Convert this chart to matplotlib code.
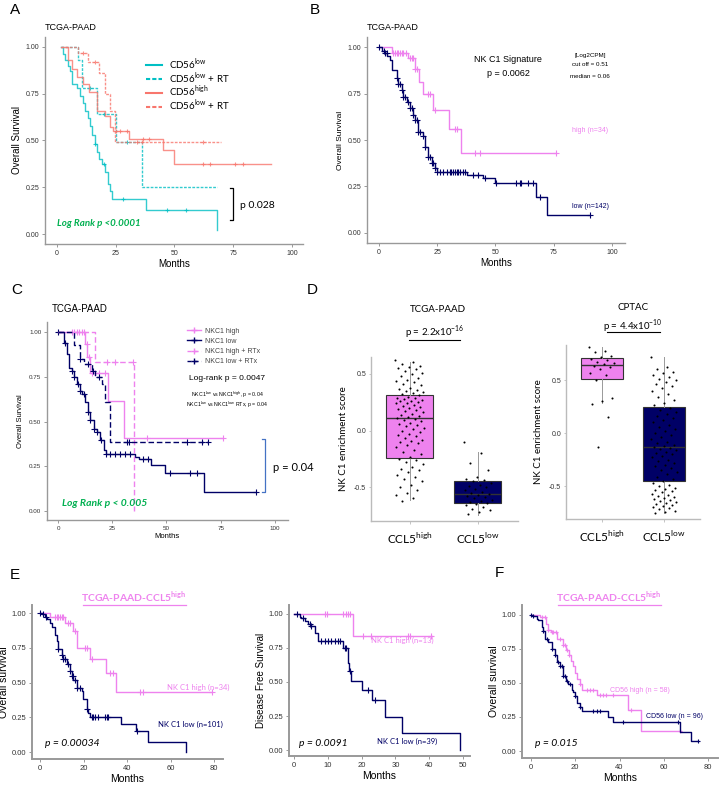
import numpy as np
import matplotlib
matplotlib.use("Agg")
import matplotlib.pyplot as plt
from matplotlib.lines import Line2D

plt.rcParams['font.family'] = ['Liberation Sans', 'DejaVu Sans']

# ---------------- data ----------------
# A: CD56 groups (months, survival)
a_low_t = [1.5, 2.5, 3.5, 4.5, 5.5, 6.5, 8.5, 10, 11, 12, 13, 14, 15, 16, 17, 18, 19, 20.5, 21.5, 22.5, 23.5, 38, 68]
a_low_s = [1.0, 0.96, 0.93, 0.90, 0.87, 0.80, 0.78, 0.74, 0.70, 0.66, 0.62, 0.58, 0.53, 0.48, 0.44, 0.40, 0.375, 0.33, 0.27, 0.23, 0.19, 0.13, 0.02]
a_low_c = [16, 20, 28, 47, 55]
a_lowrt_t = [1.5, 9, 10.5, 17, 25, 36, 68]
a_lowrt_s = [1.0, 0.93, 0.78, 0.64, 0.49, 0.25, 0.25]
a_lowrt_c = [14, 20, 30]
a_high_t = [1.5, 4.5, 6.5, 8.5, 11, 13.5, 17, 20.5, 22.5, 24, 30.5, 45, 50, 91]
a_high_s = [1.0, 0.93, 0.88, 0.84, 0.80, 0.76, 0.66, 0.63, 0.57, 0.55, 0.51, 0.45, 0.375, 0.375]
a_high_c = [25, 27, 29.7, 36.8, 39, 62, 65, 75.7, 79]
a_highrt_t = [1.5, 9, 13, 18, 20.5, 22.5, 24.5, 70]
a_highrt_s = [1.0, 0.97, 0.92, 0.86, 0.75, 0.66, 0.49, 0.49]
a_highrt_c = [11, 16, 34, 36, 62]

# B: NK C1 signature
b_high_t = [0, 5.7, 12.6, 15.4, 17.3, 18.7, 23, 30.1, 35, 76]
b_high_s = [1.0, 0.97, 0.94, 0.88, 0.81, 0.75, 0.66, 0.56, 0.43, 0.43]
b_high_c = [6.1, 6.9, 7.6, 8.3, 9, 9.7, 10.4, 11.4, 13.3, 14, 14.7, 15.6, 16.1, 21.1, 21.9, 24, 32.6, 33.3, 41.1, 43.3, 76]
b_low_t = [0, 1.1, 2.6, 3.4, 4.7, 5.4, 7.6, 8.3, 9.7, 10.4, 11.9, 13.3, 14.7, 15.4, 16.9, 19, 19.7, 21, 22.6, 24, 24.7, 37.6, 44.7, 49.7, 67.3, 72.3, 90.4]
b_low_s = [1.0, 0.98, 0.97, 0.95, 0.93, 0.875, 0.836, 0.80, 0.77, 0.73, 0.705, 0.67, 0.634, 0.607, 0.545, 0.52, 0.464, 0.41, 0.375, 0.35, 0.33, 0.31, 0.295, 0.27, 0.195, 0.095, 0.095]
b_low_c = [0.1, 2.1, 2.6, 3.3, 7.6, 8.3, 9, 9.7, 10.4, 11.1, 12.6, 13.3, 14, 14.7, 15.4, 16.1, 16.9, 17.6, 19,
           19.7, 21.1, 21.9, 22.6, 23.3, 24, 24.7, 26.1, 27.6, 29, 30.4, 31.1, 31.9, 32.6, 33.3, 34, 34.7, 36.1,
           36.9, 40.4, 42.6, 45.4, 50.4, 59, 60.4, 61.1, 64, 66.1, 68.9, 90.4]

# C: NKC1 +/- RTx
c_high_t = [0, 12.5, 13.5, 14.8, 23, 30.5, 75.9]
c_high_s = [1.0, 0.935, 0.86, 0.77, 0.615, 0.41, 0.41]
c_high_c = [6.4, 7.5, 8.7, 9.9, 11, 12, 13.3, 14.1, 15.6, 17.2, 18.7, 21.8, 41, 75.9]
c_low_t = [0, 2.6, 4.1, 4.9, 6.4, 7.2, 8.7, 10.3, 11.1, 12.6, 13.7, 14.9, 16.4, 17.9, 19.5, 21, 22.2, 35.6, 37.5, 43, 49.4, 67.3, 91.3]
c_low_s = [1.0, 0.94, 0.875, 0.80, 0.78, 0.75, 0.71, 0.67, 0.655, 0.61, 0.553, 0.507, 0.46, 0.44, 0.395, 0.34, 0.32, 0.30, 0.29, 0.255, 0.21, 0.105, 0.105]
c_low_c = [0, 3.3, 6.4, 7.5, 9, 10.3, 12.1, 13.7, 14.9, 16.4, 17.9, 19.8, 22.2, 24.1, 26.4, 28.7, 31, 33.3, 39.4, 41.7, 51.7, 60.9, 64, 91.3]
c_highrt_t = [0, 17.2, 34.8]
c_highrt_s = [1.0, 0.83, 0.0]
c_highrt_c = [22.5, 26.4, 34.5]
c_lowrt_t = [0, 7.5, 10.3, 11.8, 15.6, 17.2, 20.2, 21.8, 24, 69.3]
c_lowrt_s = [1.0, 0.93, 0.85, 0.82, 0.78, 0.75, 0.71, 0.61, 0.385, 0.385]
c_lowrt_c = [10.3, 13.8, 16.1, 18.7, 31.7, 32.5, 59.4, 66.3, 69.3]

# D: NK C1 enrichment score by CCL5 group
d_groups = ['CCL5$^{\\mathregular{high}}$', 'CCL5$^{\\mathregular{low}}$']
d1_box = [dict(q1=-0.24, med=0.11, q3=0.31, whislo=-0.61, whishi=0.61),
          dict(q1=-0.64, med=-0.56, q3=-0.45, whislo=-0.75, whishi=-0.19)]
d2_box = [dict(q1=0.51, med=0.64, q3=0.71, whislo=0.28, whishi=0.81),
          dict(q1=-0.45, med=-0.13, q3=0.25, whislo=-0.75, whishi=0.72)]
d1_high_pts = [0.62, 0.61, 0.59, 0.57, 0.56, 0.55, 0.54, 0.53, 0.51, 0.5, 0.48, 0.46, 0.45, 0.44, 0.43, 0.41, 0.4,
               0.38, 0.37, 0.36, 0.35, 0.34, 0.33, 0.32, 0.31, 0.3, 0.29, 0.29, 0.28, 0.27, 0.26, 0.26, 0.25, 0.24,
               0.24, 0.23, 0.22, 0.21, 0.2, 0.19, 0.18, 0.17, 0.16, 0.15, 0.14, 0.13, 0.12, 0.11, 0.1, 0.09, 0.08,
               0.07, 0.06, 0.05, 0.04, 0.02, 0.01, 0.0, -0.01, -0.03, -0.04, -0.05, -0.07, -0.08, -0.09, -0.1, -0.11,
               -0.13, -0.15, -0.17, -0.19, -0.21, -0.23, -0.25, -0.26, -0.28, -0.3, -0.32, -0.34, -0.35, -0.37,
               -0.39, -0.41, -0.43, -0.45, -0.48, -0.5, -0.53, -0.55, -0.57, -0.6, -0.62]
d1_low_pts = [-0.1, -0.2, -0.29, -0.35, -0.41, -0.43, -0.44, -0.45, -0.46, -0.48, -0.49, -0.5, -0.52, -0.53, -0.54,
              -0.55, -0.56, -0.57, -0.58, -0.59, -0.6, -0.61, -0.62, -0.63, -0.64, -0.65, -0.66, -0.68, -0.69, -0.7,
              -0.72, -0.74]
d2_high_pts = [0.81, 0.77, 0.76, 0.73, 0.72, 0.7, 0.69, 0.67, 0.66, 0.65, 0.63, 0.62, 0.6, 0.57, 0.55, 0.5, 0.33,
               0.3, 0.27, 0.15, -0.13]
d2_low_pts = [0.72, 0.62, 0.6, 0.58, 0.57, 0.55, 0.53, 0.51, 0.5, 0.48, 0.46, 0.44, 0.42, 0.4, 0.37, 0.34, 0.31,
              0.28, 0.26, 0.24, 0.22, 0.2, 0.18, 0.16, 0.14, 0.12, 0.1, 0.08, 0.06, 0.04, 0.02, 0.0, -0.02, -0.04,
              -0.06, -0.08, -0.09, -0.11, -0.12, -0.13, -0.14, -0.15, -0.16, -0.18, -0.19, -0.2, -0.22, -0.23,
              -0.25, -0.26, -0.28, -0.3, -0.31, -0.33, -0.35, -0.37, -0.39, -0.41, -0.43, -0.45, -0.47, -0.49,
              -0.5, -0.52, -0.53, -0.54, -0.55, -0.56, -0.57, -0.58, -0.59, -0.6, -0.61, -0.62, -0.63, -0.64,
              -0.65, -0.66, -0.67, -0.68, -0.69, -0.7, -0.71, -0.72, -0.73, -0.74, -0.75]

# E left: OS in CCL5 high
e_high_t = [0, 4.6, 11.5, 15, 17.1, 22.9, 30.3, 34.9, 79]
e_high_s = [1.0, 0.97, 0.93, 0.87, 0.75, 0.67, 0.57, 0.435, 0.435]
e_high_c = [6.9, 7.6, 8.4, 9.2, 9.9, 10.7, 13, 13.8, 16, 20.6, 21.4, 23.7, 32.1, 33.6, 45.9, 47.4, 79]
e_low_t = [0, 0.8, 2.3, 3.1, 4.6, 5.4, 6.9, 7.6, 8.4, 9.9, 10.7, 12.2, 13.8, 14.5, 15.3, 16.8, 19.1, 19.9, 21.4, 22.2, 22.9, 37, 44, 49.7, 67]
e_low_s = [1.0, 0.99, 0.97, 0.96, 0.93, 0.9, 0.84, 0.80, 0.74, 0.70, 0.67, 0.63, 0.58, 0.55, 0.52, 0.46, 0.44, 0.38, 0.31, 0.28, 0.25, 0.20, 0.15, 0.075, 0.0]
e_low_c = [0, 1.2, 2.8, 8.4, 9.9, 10.7, 11.5, 13, 13.8, 14.5, 15, 16.1, 17.1, 18.3, 21.7, 23.7, 24.5, 25.2, 26.8, 29.8, 30.6, 31.4, 44.6]

# E right: DFS
g_high_t = [0, 17.6, 40.9]
g_high_s = [1.0, 0.835, 0.835]
g_high_c = [9.1, 9.8, 14.5, 15.5, 16.1, 16.5, 20.4, 22.9, 33.7, 34.2, 40.6]
g_low_t = [0, 1.7, 2.2, 3.2, 4.1, 5.1, 6.1, 7.1, 14.5, 16, 16.3, 17, 20.2, 23.2, 26.8, 32, 49.2]
g_low_s = [1.0, 0.98, 0.97, 0.95, 0.93, 0.91, 0.86, 0.80, 0.75, 0.64, 0.58, 0.51, 0.44, 0.365, 0.245, 0.125, 0.0]
g_low_c = [1, 2.7, 4.6, 5.1, 8.1, 9.1, 10.1, 11, 12, 13, 13.5, 15, 15.5, 16.7, 21.9, 23.9]

# F: CD56 in CCL5 high
f_high_t = [0, 4, 7, 7.8, 9.2, 11.6, 14.3, 15.9, 17, 18, 19.1, 19.8, 20.6, 22.1, 22.9, 29.6, 43.9, 49.6, 68]
f_high_s = [1.0, 0.98, 0.93, 0.89, 0.87, 0.82, 0.78, 0.74, 0.70, 0.66, 0.62, 0.57, 0.53, 0.49, 0.45, 0.41, 0.30, 0.15, 0.15]
f_high_c = [4.8, 6.3, 7.8, 9.3, 10.1, 11.3, 13.1, 14.6, 15.3, 16.4, 17.3, 22.1, 25.1, 26.6, 28.1, 31.1, 32.6, 34.1, 37.1, 45.4, 67.2]
f_low_t = [0, 1, 2.5, 3.3, 4.8, 5.6, 6.3, 7.8, 9.3, 10.8, 11.9, 13.1, 14.6, 15.8, 16.8, 18.3, 19.1, 19.8, 20.9, 22.1, 22.9, 34.6, 37.1, 67.2, 72.5, 75.5]
f_low_s = [1.0, 0.99, 0.97, 0.96, 0.91, 0.88, 0.82, 0.80, 0.75, 0.70, 0.65, 0.62, 0.55, 0.51, 0.49, 0.45, 0.43, 0.40, 0.35, 0.32, 0.29, 0.25, 0.21, 0.14, 0.07, 0.07]
f_low_c = [0, 1.1, 5.6, 7.1, 9.3, 10.8, 12.3, 13.1, 13.8, 14.6, 15.3, 16.1, 17.6, 19.8, 22.1, 28.1, 29.6, 31.1, 41.7, 66.5, 75.5]

VIOLET = '#EE82EE'
NAVY = '#000066'
CYAN = '#00BFC4'
SALMON = '#F8766D'
GREEN = '#00B050'
CAL = 'Lato'

W, H = 719, 789
fig = plt.figure(figsize=(W / 100, H / 100), dpi=100)


def px_axes(l, t, r, b):
    return fig.add_axes([l / W, 1 - b / H, (r - l) / W, (b - t) / H])


def ftext(x, y, s, **kw):
    kw.setdefault('va', 'center')
    kw.setdefault('ha', 'center')
    fig.text(x / W, 1 - y / H, s, **kw)


def fline(x0, x1, y0, y1, **kw):
    fig.add_artist(Line2D([x0 / W, x1 / W], [1 - y0 / H, 1 - y1 / H], transform=fig.transFigure, **kw))


def km(ax, t, s, cens, color, ls='-', lw=1.0, alpha=1.0, ms=4):
    ax.step(t, s, where='post', color=color, ls=ls, lw=lw, alpha=alpha)
    idx = np.searchsorted(t, cens, side='right') - 1
    ax.plot(cens, np.array(s)[idx], ls='none', marker='+', color=color, ms=ms, mew=0.8, alpha=alpha)


def km_style(ax, xlim, ylim, xticks, lsize=5, spw=1.0):
    ax.set_xlim(xlim)
    ax.set_ylim(ylim)
    ax.set_xticks(xticks)
    ax.set_yticks([0, 0.25, 0.5, 0.75, 1.0])
    ax.set_yticklabels(['0.00', '0.25', '0.50', '0.75', '1.00'])
    for sp in ['top', 'right']:
        ax.spines[sp].set_visible(False)
    for sp in ['left', 'bottom']:
        ax.spines[sp].set_color('#999999')
        ax.spines[sp].set_linewidth(spw)
    ax.tick_params(length=2, width=0.7, color='#999999', labelsize=lsize, labelcolor='#333333', pad=2)
    ax.patch.set_alpha(0)


# ---------------- A ----------------
ax = px_axes(45, 37, 303, 244)
km(ax, a_low_t, a_low_s, a_low_c, CYAN, lw=1.0, alpha=0.8, ms=3)
km(ax, a_lowrt_t, a_lowrt_s, a_lowrt_c, CYAN, ls=(0, (2, 1)), lw=1.0, alpha=0.8, ms=3)
km(ax, a_high_t, a_high_s, a_high_c, SALMON, lw=1.0, alpha=0.8, ms=3)
km(ax, a_highrt_t, a_highrt_s, a_highrt_c, SALMON, ls=(0, (2, 1)), lw=1.0, alpha=0.8, ms=3)
km_style(ax, (-5.1, 104.7), (-0.053, 1.053), [0, 25, 50, 75, 100])
ax.set_xlabel('Months', fontsize=7, labelpad=2)
ax.set_ylabel('Overall Survival', fontsize=7, labelpad=3)
handles = [Line2D([], [], color=CYAN, lw=1.5),
           Line2D([], [], color=CYAN, lw=1.5, ls=(0, (2, 1))),
           Line2D([], [], color=SALMON, lw=1.5),
           Line2D([], [], color=SALMON, lw=1.5, ls=(0, (2, 1)))]
labels = ['CD56$^{\\mathregular{low}}$', 'CD56$^{\\mathregular{low}}$ + RT',
          'CD56$^{\\mathregular{high}}$', 'CD56$^{\\mathregular{low}}$ + RT']
ax.legend(handles, labels, loc='upper left', bbox_to_anchor=(0.375, 0.925), frameon=False,
          prop={'family': CAL, 'size': 7}, handlelength=1.7, labelspacing=-0.15, handletextpad=0.7,
          borderaxespad=0)
ax.plot([73.5, 75, 75, 73.5], [0.245, 0.245, 0.075, 0.075], color='black', lw=0.9, clip_on=False)
ftext(15, 10, 'A', fontsize=11)
ftext(45, 27, 'TCGA-PAAD', fontsize=6.5, ha='left')
ftext(240, 206, 'p 0.028', fontsize=7.5, ha='left', family=CAL)
ftext(57, 223, 'Log Rank p <0.0001', fontsize=7, ha='left', family=CAL, color=GREEN,
      fontweight='bold', style='italic')

# ---------------- B ----------------
ax = px_axes(367, 37, 625, 243)
km(ax, b_high_t, b_high_s, b_high_c, VIOLET, lw=1.0, ms=4)
km(ax, b_low_t, b_low_s, b_low_c, NAVY, lw=1.0, ms=4)
km_style(ax, (-5.15, 105.6), (-0.054, 1.054), [0, 25, 50, 75, 100])
ax.set_xlabel('Months', fontsize=7, labelpad=2)
ax.set_ylabel('Overall Survival', fontsize=6, labelpad=3)
ftext(315, 10, 'B', fontsize=11)
ftext(367, 27, 'TCGA-PAAD', fontsize=6.5, ha='left')
ftext(508, 59, 'NK C1 Signature', fontsize=6.5)
ftext(508, 73, 'p = 0.0062', fontsize=6.5)
ftext(590, 55, '[Log2CPM]', fontsize=4.5)
ftext(590, 65, 'cut off = 0.51', fontsize=4.5)
ftext(590, 77, 'median = 0.06', fontsize=4.5)
ftext(590, 131, 'high (n=34)', fontsize=5, color=VIOLET)
ftext(590, 207, 'low (n=142)', fontsize=5, color=NAVY)

# ---------------- C ----------------
ax = px_axes(47, 322, 288, 520)
km(ax, c_high_t, c_high_s, c_high_c, VIOLET, lw=1.0, ms=4)
km(ax, c_low_t, c_low_s, c_low_c, NAVY, lw=1.0, ms=4)
km(ax, c_highrt_t, c_highrt_s, c_highrt_c, VIOLET, ls=(0, (4, 2)), lw=1.0, ms=4)
km(ax, c_lowrt_t, c_lowrt_s, c_lowrt_c, NAVY, ls=(0, (4, 2)), lw=1.0, ms=4)
km_style(ax, (-5.07, 106), (-0.05, 1.056), [0, 25, 50, 75, 100], lsize=4.5)
ax.set_ylabel('Overall Survival', fontsize=5.5, labelpad=4)
handles = [Line2D([], [], color=VIOLET, lw=1, marker='+', ms=4),
           Line2D([], [], color=NAVY, lw=1, marker='+', ms=4),
           Line2D([], [], color=VIOLET, lw=1, ls=(0, (3, 2)), marker='+', ms=4),
           Line2D([], [], color=NAVY, lw=1, ls=(0, (3, 2)), marker='+', ms=4)]
labels = ['NKC1 high', 'NKC1 low', 'NKC1 high + RTx', 'NKC1 low + RTx']
leg = ax.legend(handles, labels, loc='upper left', bbox_to_anchor=(0.57, 0.985), frameon=False,
                fontsize=5, handlelength=2.0, labelspacing=0.45, handletextpad=0.5, borderaxespad=0)
for txt in leg.get_texts():
    txt.set_color('#444444')
ax.plot([94, 95.6, 95.6, 94], [0.40, 0.40, 0.105, 0.105], color='#4472C4', lw=0.9, clip_on=False)
ftext(17, 290, 'C', fontsize=11)
ftext(52, 309, 'TCGA-PAAD', fontsize=7, ha='left')
ftext(227, 379, 'Log-rank p = 0.0047', fontsize=6)
ftext(227, 395, 'NKC1$^{\\mathregular{low}}$ vs NKC1$^{\\mathregular{high}}$, p = 0.04', fontsize=3.8)
ftext(227, 405, 'NKC1$^{\\mathregular{low}}$ vs NKC1$^{\\mathregular{low}}$ RTx, p = 0.04', fontsize=3.8)
ftext(273, 468, 'p = 0.04', fontsize=8, ha='left', family=CAL)
ftext(62, 503, 'Log Rank p < 0.005', fontsize=7.5, ha='left', family=CAL, color=GREEN,
      fontweight='bold', style='italic')
ftext(167, 536, 'Months', fontsize=5.5)

# ---------------- D ----------------
def boxpanel(ax, stats, high_pts, low_pts, xlim, ylim, yticks):
    for st, lab in zip(stats, d_groups):
        st['label'] = lab
    bp = ax.bxp(stats, positions=[0, 1], widths=0.69, showfliers=False, patch_artist=True,
                boxprops=dict(edgecolor='#333333', linewidth=0.8),
                medianprops=dict(color='#333333', linewidth=1.0),
                whiskerprops=dict(color='#999999', linewidth=0.7),
                capprops=dict(linewidth=0), zorder=1)
    bp['boxes'][0].set_facecolor(VIOLET)
    bp['boxes'][1].set_facecolor(NAVY)
    for pos, pts in [(0, high_pts), (1, low_pts)]:
        n = len(pts)
        offs = (((np.arange(n) * 0.618034) % 1.0) - 0.5) * 0.42
        ax.scatter(pos + offs, pts, s=2.2, color='black', zorder=3, linewidths=0)
    ax.set_xlim(xlim)
    ax.set_ylim(ylim)
    ax.set_yticks(yticks)
    ax.set_yticklabels([f'{v:.1f}' for v in yticks])
    for sp in ['top', 'right']:
        ax.spines[sp].set_visible(False)
    for sp in ['left', 'bottom']:
        ax.spines[sp].set_color('#BBBBBB')
        ax.spines[sp].set_linewidth(1.0)
    ax.tick_params(axis='y', length=1.5, width=0.6, color='#BBBBBB', labelsize=5, labelcolor='#333333', pad=2)
    ax.tick_params(axis='x', length=2, width=0.6, color='#BBBBBB', labelsize=8.5, pad=5)
    for lab in ax.get_xticklabels():
        lab.set_family(CAL)
    ax.set_ylabel('NK C1 enrichment score', fontsize=7, family=CAL, labelpad=4)


ax = px_axes(371, 357, 518, 521)
boxpanel(ax, d1_box, d1_high_pts, d1_low_pts, (-0.57, 1.59), (-0.8, 0.65), [-0.5, 0.0, 0.5])
ax2 = px_axes(566, 345, 700, 519)
boxpanel(ax2, d2_box, d2_high_pts, d2_low_pts, (-0.58, 1.58), (-0.81, 0.83), [-0.5, 0.0, 0.5])
ftext(312, 290, 'D', fontsize=11)
ftext(438, 310, 'TCGA-PAAD', fontsize=7, family=CAL)
ftext(435, 332, 'p = 2.2x10$^{\\mathregular{-16}}$', fontsize=7, family=CAL)
fline(409, 460, 340, 340, color='black', lw=0.8)
ftext(633, 307, 'CPTAC', fontsize=7, family=CAL)
ftext(633, 326, 'p = 4.4x10$^{\\mathregular{-10}}$', fontsize=7, family=CAL)
fline(607, 660, 332, 332, color='black', lw=0.8)

# ---------------- E ----------------
ax = px_axes(32, 605, 223, 759)
km(ax, e_high_t, e_high_s, e_high_c, VIOLET, lw=1.0, ms=4)
km(ax, e_low_t, e_low_s, e_low_c, NAVY, lw=1.0, ms=4)
km_style(ax, (-3.7, 84.1), (-0.05, 1.058), [0, 20, 40, 60, 80], lsize=5.5, spw=1.4)
ax.set_xlabel('Months', fontsize=7.5, labelpad=2)
ax.set_ylabel('Overall survival', fontsize=7.5, labelpad=2)
ftext(15, 575, 'E', fontsize=11)
ftext(134, 597, 'TCGA-PAAD-CCL5$^{\\mathregular{high}}$', fontsize=7.5, family=CAL, color=VIOLET,
      fontweight='bold')
fline(83, 186, 605, 605, color=VIOLET, lw=0.9)
ftext(198, 687, 'NK C1 high (n=34)', fontsize=5.5, family=CAL, color=VIOLET)
ftext(190, 724, 'NK C1 low (n=101)', fontsize=5.5, family=CAL, color=NAVY)
ftext(45, 743, 'p = 0.00034', fontsize=7.5, ha='left', family=CAL, style='italic')

ax = px_axes(289, 605, 470, 756)
km(ax, g_high_t, g_high_s, g_high_c, VIOLET, lw=1.0, ms=4)
km(ax, g_low_t, g_low_s, g_low_c, NAVY, lw=1.0, ms=4)
km_style(ax, (-1.5, 52.1), (-0.044, 1.066), [0, 10, 20, 30, 40, 50], lsize=5.5, spw=1.4)
ax.set_xlabel('Months', fontsize=7.5, labelpad=2)
ax.set_ylabel('Disease Free Survival', fontsize=7, labelpad=2)
ftext(402, 640, 'NK C1 high (n=13)', fontsize=5.5, family=CAL, color=VIOLET)
ftext(407, 741, 'NK C1 low (n=39)', fontsize=5.5, family=CAL, color=NAVY)
ftext(299, 743, 'p = 0.0091', fontsize=7.5, ha='left', family=CAL, style='italic')

# ---------------- F ----------------
ax = px_axes(522, 605, 718, 758)
km(ax, f_high_t, f_high_s, f_high_c, VIOLET, lw=1.0, ms=3.5)
km(ax, f_low_t, f_low_s, f_low_c, NAVY, lw=1.0, ms=3.5)
km_style(ax, (-4.07, 84.5), (-0.051, 1.07), [0, 20, 40, 60, 80], lsize=5.5, spw=1.4)
ax.set_xlabel('Months', fontsize=7.5, labelpad=2)
ax.set_ylabel('Overall survival', fontsize=7.5, labelpad=2)
ftext(499, 573, 'F', fontsize=11)
ftext(609, 597, 'TCGA-PAAD-CCL5$^{\\mathregular{high}}$', fontsize=7.5, family=CAL, color=VIOLET,
      fontweight='bold')
fline(558, 661, 605, 605, color=VIOLET, lw=0.9)
ftext(640, 690, 'CD56 high (n = 58)', fontsize=5, color=VIOLET)
ftext(675, 716, 'CD56 low (n = 96)', fontsize=5, color=NAVY)
ftext(535, 743, 'p = 0.015', fontsize=7.5, ha='left', family=CAL, style='italic')

fig.savefig('out.png', dpi=100)
